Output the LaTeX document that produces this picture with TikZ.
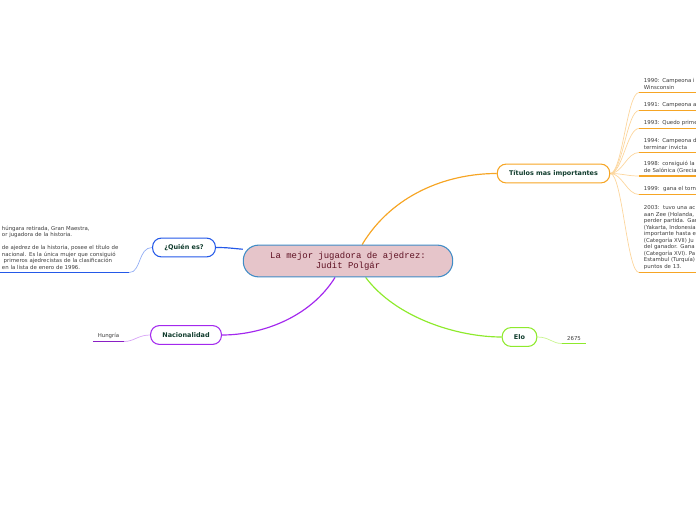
\documentclass[tikz,border=0pt]{standalone}
\usepackage{fontspec}
\setmainfont{DejaVu Sans}
\newfontfamily\rootfont{Liberation Mono}
\usetikzlibrary{backgrounds,positioning}
\definecolor{ink}{HTML}{0F3B2C}
\definecolor{leafink}{HTML}{3C3C3C}
\definecolor{rootfill}{HTML}{E6C5CA}
\definecolor{rootborder}{HTML}{3F8CC6}
\definecolor{rootink}{HTML}{5E1022}
\definecolor{blue}{HTML}{2459E8}
\definecolor{bluelight}{HTML}{93AEF4}
\definecolor{orange}{HTML}{F6A524}
\definecolor{orangelight}{HTML}{FCD69E}
\definecolor{purple}{HTML}{A328EE}
\definecolor{purplelight}{HTML}{D7A2F7}
\definecolor{darkpurple}{HTML}{8A1FC4}
\definecolor{lime}{HTML}{8EEA2C}
\definecolor{limelight}{HTML}{C9F590}
\tikzset{
  root/.style={draw=rootborder,fill=rootfill,line width=0.9pt,rounded corners=13pt,minimum width=178pt,minimum height=27pt,align=center,font=\rootfont\fontsize{7.6}{8.6}\selectfont,text=rootink},
  topic/.style={fill=white,line width=0.9pt,rounded corners=7.5pt,minimum height=16pt,inner xsep=10pt,font=\fontsize{5.5}{6.6}\selectfont\bfseries,text=ink},
  leaf/.style={font=\fontsize{4.6}{5.5}\selectfont,text=leafink,align=left,inner xsep=4pt,inner ysep=2.5pt},
  branch/.style={line width=1pt},
  twig/.style={line width=0.6pt},
  underline/.style={line width=1.4pt}
}

\begin{document}
\begin{tikzpicture}[x=0.85pt,y=-0.85pt]
  \clip (0,0) rectangle (696,520);

  \node[root] (root) at (348,261) {La mejor jugadora de ajedrez:\\Judit Polgár};

  \node[topic,draw=blue] (quien) at (184,247.5) {¿Quién es?};
  \node[topic,draw=orange] (titulos) at (553.5,173.5) {Títulos mas importantes};
  \node[topic,draw=purple] (nacion) at (186,335) {Nacionalidad};
  \node[topic,draw=lime] (elo) at (519.5,337) {Elo};

  % leaves, cut by the page edge as in the map
  \node[leaf,text width=104pt,anchor=south west] (quienleaf) at (-3,272.5) {
    húngara retirada, Gran Maestra,\\
    or jugadora de la historia.\\[5.5pt]
    de ajedrez de la historia, posee el título de\\
    nacional. Es la única mujer que consiguió\\
    \ primeros ajedrecistas de la clasificación\\
    en la lista de enero de 1996.};

  \node[leaf,text width=70pt,anchor=south west] (t1990) at (639,92.5) {1990: Campeona i\\Winsconsin};
  \node[leaf,text width=70pt,anchor=south west] (t1991) at (639,110.5) {1991: Campeona a};
  \node[leaf,text width=70pt,anchor=south west] (t1993) at (639,128.5) {1993: Quedo prime};
  \node[leaf,text width=70pt,anchor=south west] (t1994) at (639,152.5) {1994: Campeona d\\terminar invicta};
  \node[leaf,text width=70pt,anchor=south west] (t1998) at (639,176) {1998: consiguió la\\de Salónica (Grecia};
  \node[leaf,text width=70pt,anchor=south west] (t1999) at (639,194.5) {1999:\ \ gana el torn};
  \node[leaf,text width=70pt,anchor=south west] (t2003) at (639,272.5) {
    2003:\ \ tuvo una ac\\
    aan Zee (Holanda,\\
    perder partida. Gan\\
    (Yakarta, Indonesia\\
    importante hasta e\\
    (Categoría XVII) Ju\\
    del ganador. Gana\\
    (Categoría XVI). Pa\\
    Estambul (Turquía)\\
    puntos de 13.};

  \node[leaf,align=center,inner xsep=0pt,minimum width=26pt,anchor=south] (hungria) at (108.5,341.5) {Hungría};
  \node[leaf,align=center,inner xsep=0pt,minimum width=20pt,anchor=south] (puntos) at (574,343.5) {2675};

  \draw[underline,blue] (quienleaf.south west) -- (quienleaf.south east);
  \draw[underline,darkpurple] (hungria.south west) -- (hungria.south east);
  \draw[underline,lime] (puntos.south west) -- (puntos.south east);
  \foreach \leafname in {t1990,t1991,t1993,t1994,t1998,t1999,t2003}
    \draw[underline,orange] (\leafname.south west) -- (\leafname.south east);

  \begin{scope}[on background layer]
    \draw[branch,blue] ([yshift=10pt]root.west) .. controls +(-12,-1) and +(12,0) .. (quien.east);
    \draw[branch,orange] ([xshift=12pt]root.north) .. controls +(30,-50) and +(-50,0) .. (titulos.west);
    \draw[branch,purple] ([xshift=-11pt]root.south) .. controls +(-25,40) and +(40,0) .. (nacion.east);
    \draw[branch,lime] ([xshift=15pt]root.south) .. controls +(30,40) and +(-45,0) .. (elo.west);

    \draw[twig,bluelight] (quien.west) .. controls +(-14,0) and +(12,0) .. (quienleaf.south east);
    \draw[twig,purplelight] (nacion.west) .. controls +(-12,0) and +(10,0) .. (hungria.south east);
    \draw[twig,limelight] (elo.east) .. controls +(12,0) and +(-10,0) .. (puntos.south west);
    \foreach \leafname in {t1990,t1991,t1993,t1994,t1998,t1999,t2003}
      \draw[twig,orangelight] (titulos.east) .. controls +(12,0) and +(-12,0) .. (\leafname.south west);
  \end{scope}
\end{tikzpicture}
\end{document}
